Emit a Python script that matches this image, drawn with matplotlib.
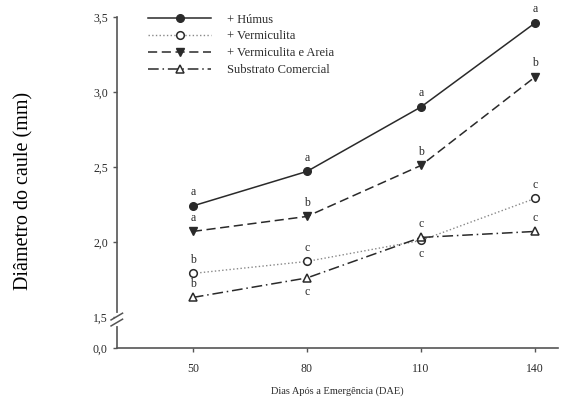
import numpy as np
import matplotlib
matplotlib.use("Agg")
import matplotlib.pyplot as plt
from matplotlib import transforms

plt.rcParams['font.family'] = ['Liberation Serif', 'DejaVu Serif']

dias = [50, 80, 110, 140]
humus = [2.24, 2.47, 2.90, 3.46]
vermiculita = [1.79, 1.87, 2.01, 2.29]
verm_areia = [2.07, 2.17, 2.51, 3.10]
substrato = [1.63, 1.76, 2.03, 2.07]

letras_humus = ['a', 'a', 'a', 'a']
letras_verm = ['b', 'c', 'c', 'c']
letras_areia = ['a', 'b', 'b', 'b']
letras_subst = ['b', 'c', 'c', 'c']
# +1 above the point, -1 below
pos_verm = [1, 1, -1, 1]
pos_subst = [1, -1, 1, 1]

y_ticks = [1.5, 2.0, 2.5, 3.0, 3.5]
zero_pos = 1.293  # where "0,0" sits below the break

cor = '#2a2a2a'

fig = plt.figure(figsize=(5.67, 4.03), dpi=100)
ax = fig.add_axes([0.206, 0.1365, 0.778, 0.8215])

ax.plot(dias, humus, '-', color=cor, lw=1.1, marker='o', ms=5.5,
        mfc=cor, mec=cor, label='+ Húmus')
ax.plot(dias, vermiculita, ':', color='#888888', lw=1.0, marker='o', ms=5.5,
        mfc='white', mec=cor, mew=1.1, label='+ Vermiculita')
ax.plot(dias, verm_areia, '--', color=cor, lw=1.1, marker='v', ms=5.5,
        mfc=cor, mec=cor, dashes=(6, 3), label='+ Vermiculita e Areia')
ax.plot(dias, substrato, '-.', color=cor, lw=1.1, marker='^', ms=5.5,
        mfc='white', mec=cor, mew=1.1, dashes=(7, 2.5, 1, 2.5), label='Substrato Comercial')

def letras(xs, ys, labs, pos=None):
    for i, (x, y, t) in enumerate(zip(xs, ys, labs)):
        s = 1 if pos is None else pos[i]
        ax.annotate(t, (x, y), xytext=(0, 10 * s), textcoords='offset points',
                    ha='center', va='center', fontsize=8.5, color=cor)

letras(dias, humus, letras_humus)
letras(dias, verm_areia, letras_areia)
letras(dias, vermiculita, letras_verm, pos_verm)
letras(dias, substrato, letras_subst, pos_subst)

ax.set_xlim(30, 146)
ax.set_ylim(zero_pos, 3.5)
ax.set_xticks(dias)
ax.set_xticklabels([str(d) for d in dias])
ax.set_yticks([zero_pos] + y_ticks)
ax.set_yticklabels(['0,0'] + [f'{v:.1f}'.replace('.', ',') for v in y_ticks])

for s in ['top', 'right']:
    ax.spines[s].set_visible(False)
for s in ['left', 'bottom']:
    ax.spines[s].set_color('#555555')
    ax.spines[s].set_linewidth(1.2)
ax.tick_params(direction='out', length=3, width=1, colors='#555555',
               labelcolor=cor, labelsize=8.5)
ax.tick_params(axis='x', pad=8)

# axis break marks
tr = transforms.blended_transform_factory(ax.transAxes, ax.transData)
ax.plot([0, 0], [1.45, 1.51], color='white', lw=3, transform=tr, clip_on=False, zorder=5)
for y0 in [1.44, 1.48]:
    ax.plot([-0.013, 0.013], [y0, y0 + 0.045], color='#555555', lw=1.1,
            transform=tr, clip_on=False, zorder=6)

ax.set_xlabel('Dias Após a Emergência (DAE)', fontsize=7.5, color=cor, labelpad=8)
ax.set_ylabel('Diâmetro do caule (mm)', fontsize=14.5, color='black')
ax.yaxis.set_label_coords(-0.188, 0.474)

leg = ax.legend(loc='upper left', bbox_to_anchor=(0.06, 1.025), frameon=False,
                fontsize=9, handlelength=5.0, handletextpad=1.3,
                labelspacing=0.38, borderaxespad=0)
for t in leg.get_texts():
    t.set_color(cor)

fig.savefig('out.png', dpi=100)
